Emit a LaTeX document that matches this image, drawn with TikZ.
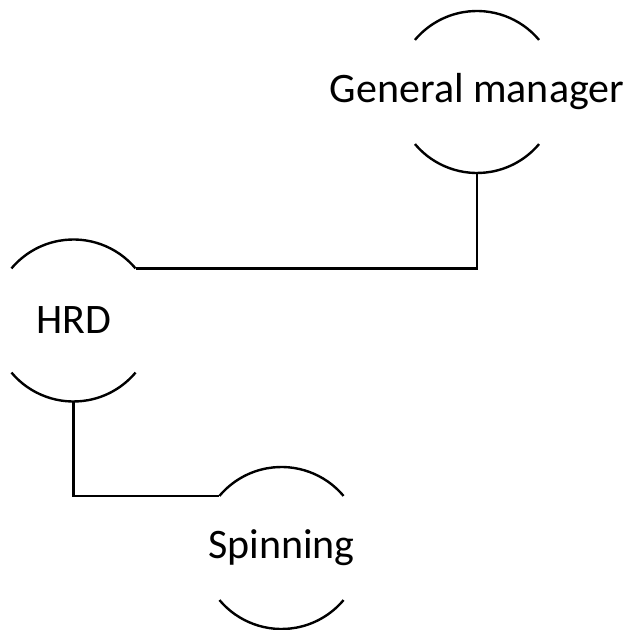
\documentclass[tikz,border=0pt]{standalone}
\usepackage{fontspec}
\setmainfont{Carlito}
\begin{document}
\begin{tikzpicture}[x=1pt,y=1pt,
  unit/.style={circle, minimum size=162pt, inner sep=0pt, outer sep=0pt, draw=none},
  lbl/.style={font=\fontsize{42}{48}\selectfont},
  arcline/.style={line width=2.4pt, black},
  conn/.style={line width=2.4pt, black}]
\useasboundingbox (0,0) rectangle (630,630);
\node[unit, label={[lbl]center:General manager}] (gm) at (477,538) {};
\node[unit, label={[lbl]center:HRD}] (hrd) at (73.5,309.5) {};
\node[unit, label={[lbl]center:Spinning}] (spin) at (281.5,82) {};
\foreach \n in {gm,hrd,spin}{
  \draw[arcline] (\n.40) arc[start angle=40, end angle=140, radius=81pt];
  \draw[arcline] (\n.220) arc[start angle=220, end angle=320, radius=81pt];
}
\draw[conn] (gm.south) |- (hrd.40);
\draw[conn] (hrd.south) |- (spin.140);
\end{tikzpicture}
\end{document}
